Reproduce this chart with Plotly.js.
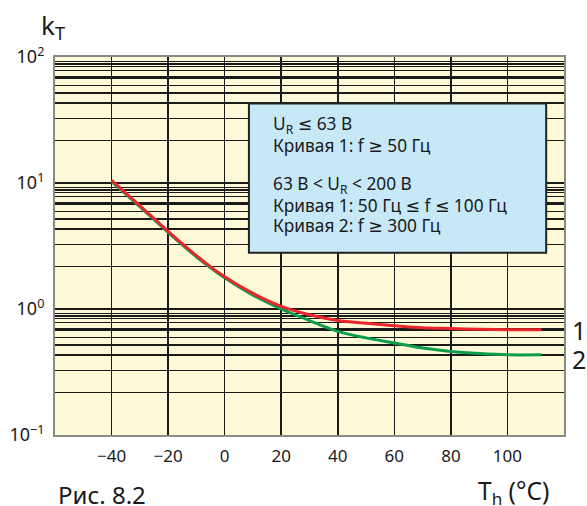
<!DOCTYPE html>
<html><head><meta charset="utf-8">
<script src="https://cdn.plot.ly/plotly-3.0.1.min.js"></script>
<style>html,body{margin:0;padding:0;background:#fff}#chart{width:587px;height:506px}</style>
</head><body><div id="chart"></div>
<script>
// Temperature (°C) and k_T values
const temps = [-40, -30, -20, -10, 0, 10, 20, 30, 40, 50, 60, 70, 80, 90, 100, 112];
const curve1 = [10.5, 6.6, 4.13, 2.65, 1.80, 1.33, 1.05, 0.90, 0.81, 0.77, 0.737, 0.71, 0.70, 0.69, 0.685, 0.685];
const curve2 = [10.3, 6.5, 4.06, 2.60, 1.77, 1.29, 1.00, 0.81, 0.665, 0.59, 0.537, 0.49, 0.46, 0.443, 0.433, 0.433];
const curveNames = ['1', '2'];

const xTicks = [-40, -20, 0, 20, 40, 60, 80, 100];
const decadeVals = [0.1, 1, 10, 100];
const decadeLabels = ['10<sup>−1</sup>', '10<sup>0</sup>', '10<sup>1</sup>', '10<sup>2</sup>'];
// thin horizontal grid lines (as drawn on the chart paper)
const thinGrid = [0.1, 0.217, 0.325, 0.52, 0.595, 0.78, 0.84, 0.88, 0.92,
                  1, 2.17, 3.25, 5.2, 5.95, 7.8, 8.4, 8.8, 9.2,
                  10, 21.7, 32.5, 52, 59.5, 78, 84, 88, 92, 100];
// heavier horizontal grid lines
const thickGrid = [0.43, 0.685, 4.3, 6.85, 43, 68.5];

const boxLines = [
  'U<sub>R</sub> ≤ 63 В',
  'Кривая 1: f ≥ 50 Гц',
  '',
  '63 В < U<sub>R</sub> < 200 В',
  'Кривая 1: 50 Гц ≤ f ≤ 100 Гц',
  'Кривая 2: f ≥ 300 Гц'
];

const FONT = 'Noto Sans, DejaVu Sans, sans-serif';
const INK = '#1a1a1a';

const yTickText = thinGrid.map(v => {
  const i = decadeVals.indexOf(v);
  return i >= 0 ? decadeLabels[i] : '';
});

const traces = [
  {x: temps, y: curve2, type: 'scatter', mode: 'lines', name: curveNames[1],
   line: {color: '#0a9e4a', width: 3, shape: 'spline', smoothing: 0.8}, yaxis: 'y', hoverinfo: 'skip'},
  {x: temps, y: curve1, type: 'scatter', mode: 'lines', name: curveNames[0],
   line: {color: '#e8262b', width: 3, shape: 'spline', smoothing: 0.8}, yaxis: 'y2', hoverinfo: 'skip'}
];

// plot area in pixels: top 57, bottom 435 (height 378)
const boxAnn = boxLines.map((t, i) => ({
  xref: 'paper', yref: 'paper', x: 0.425, y: (435 - (125 + 20 * i)) / 378,
  xanchor: 'left', yanchor: 'middle', text: t, align: 'left', showarrow: false,
  font: {size: 17.3, color: INK, family: FONT}
})).filter(a => a.text !== '');

const layout = {
  width: 587, height: 506,
  margin: {l: 55, r: 23, t: 57, b: 71},
  paper_bgcolor: '#ffffff',
  plot_bgcolor: '#fef9d6',
  showlegend: false,
  font: {family: FONT, color: INK},
  xaxis: {
    range: [-60, 120], tickvals: xTicks, ticks: '',
    showgrid: true, gridcolor: INK, gridwidth: 1.6,
    zeroline: false, showline: true, linecolor: '#8a8a8a', linewidth: 2, mirror: true,
    tickfont: {size: 17, color: INK, family: FONT}, ticklabelstandoff: 5
  },
  yaxis: {
    type: 'log', range: [-1, 2], tickvals: thinGrid, ticktext: yTickText, ticks: '',
    showgrid: true, gridcolor: INK, gridwidth: 1.6,
    zeroline: false, showline: true, linecolor: '#8a8a8a', linewidth: 2, mirror: true,
    tickfont: {size: 18, color: INK, family: FONT}, ticklabelstandoff: 5
  },
  yaxis2: {
    type: 'log', range: [-1, 2], overlaying: 'y', tickvals: thickGrid, showticklabels: false,
    ticks: '', showgrid: true, gridcolor: INK, gridwidth: 2.6, zeroline: false, showline: false
  },
  shapes: [
    {type: 'rect', xref: 'paper', yref: 'paper', x0: 0.381, x1: 0.965, y0: 0.482, y1: 0.877,
     fillcolor: '#c7e8f7', line: {color: '#222', width: 2}, layer: 'above'}
  ],
  annotations: boxAnn.concat([
    {xref: 'paper', yref: 'paper', x: -0.031, y: 1.083, xanchor: 'left', yanchor: 'middle',
     text: 'k<sub>T</sub>', showarrow: false, font: {size: 26, color: INK, family: FONT}},
    {xref: 'paper', yref: 'paper', x: 0.828, y: -0.150, xanchor: 'left', yanchor: 'middle',
     text: 'T<sub>h</sub> (°C)', showarrow: false, font: {size: 24.5, color: INK, family: FONT}},
    {xref: 'paper', yref: 'paper', x: 0.002, y: -0.158, xanchor: 'left', yanchor: 'middle',
     text: 'Рис. 8.2', showarrow: false, font: {size: 24, color: INK, family: FONT}},
    {xref: 'paper', yref: 'y', x: 1.0295, y: Math.log10(curve1[curve1.length - 1]), xanchor: 'center', yanchor: 'middle',
     text: curveNames[0], showarrow: false, font: {size: 25, color: INK, family: FONT}},
    {xref: 'paper', yref: 'y', x: 1.0295, y: Math.log10(curve2[curve2.length - 1]), yshift: -4, xanchor: 'center', yanchor: 'middle',
     text: curveNames[1], showarrow: false, font: {size: 25, color: INK, family: FONT}}
  ])
};

Plotly.newPlot('chart', traces, layout, {displayModeBar: false, staticPlot: true});
</script>
</body></html>
